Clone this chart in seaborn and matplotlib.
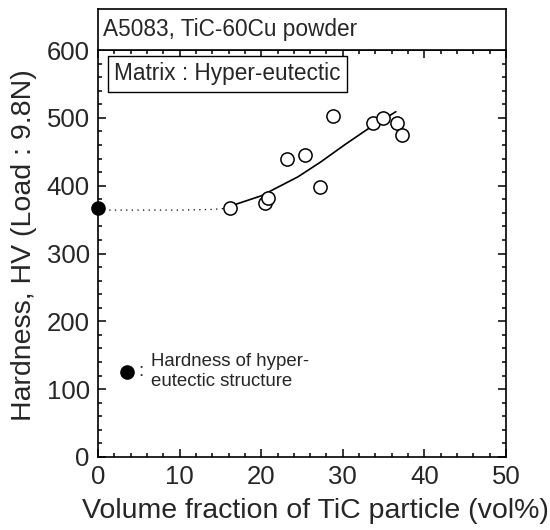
import matplotlib
matplotlib.use("Agg")
import matplotlib.pyplot as plt
import seaborn as sns
import pandas as pd
from matplotlib.ticker import MultipleLocator

# ---- data ----
vol_frac = [16.2, 20.5, 20.8, 23.2, 25.4, 27.2, 28.8, 33.7, 34.9, 36.7, 37.3]
hardness = [367, 374, 382, 440, 445, 398, 502, 492, 500, 492, 474]

curve_x = [16.2, 17.0, 20.0, 21.6, 24.5, 27.3, 30.2, 33.0, 36.5]
curve_y = [367, 373, 385, 395, 413, 435, 460, 483, 509]

dotted_x = [0, 5, 10, 14, 16.2]
dotted_y = [364, 364, 364, 365, 367]

matrix_x = [0]
matrix_y = [367]

legend_dot_x = [3.6]
legend_dot_y = [126]

title_text = "A5083, TiC-60Cu powder"
box_text = "Matrix : Hyper-eutectic"
note_text = "Hardness of hyper-\neutectic structure"
xlabel = "Volume fraction of TiC particle (vol%)"
ylabel = "Hardness, HV (Load : 9.8N)"

sns.set_style("ticks")
plt.rcParams['font.family'] = ['Liberation Sans', 'DejaVu Sans']

W, H = 550, 530
fig = plt.figure(figsize=(5.5, 5.3), dpi=100)
L, R, B, T = 98, 506, 457, 50
ax = fig.add_axes([L / W, (H - B) / H, (R - L) / W, (B - T) / H])

df = pd.DataFrame({"x": vol_frac, "y": hardness})
cdf = pd.DataFrame({"x": curve_x, "y": curve_y})
ddf = pd.DataFrame({"x": dotted_x, "y": dotted_y})

sns.lineplot(data=ddf, x="x", y="y", ax=ax, color="black", lw=0.9,
             linestyle=(0, (1, 3.5)), sort=False, zorder=2)
sns.lineplot(data=cdf, x="x", y="y", ax=ax, color="black", lw=1.2,
             sort=False, zorder=2)
ax.plot(vol_frac, hardness, linestyle="none", marker="o", markersize=9.5,
        markerfacecolor="white", markeredgecolor="black", markeredgewidth=1.1,
        zorder=3)
ax.plot(matrix_x, matrix_y, linestyle="none", marker="o", markersize=9.5,
        color="black", zorder=4, clip_on=False)
ax.plot(legend_dot_x, legend_dot_y, linestyle="none", marker="o",
        markersize=9.5, color="black", zorder=4)

ax.set_xlim(0, 50)
ax.set_ylim(0, 600)
ax.xaxis.set_major_locator(MultipleLocator(10))
ax.xaxis.set_minor_locator(MultipleLocator(2))
ax.yaxis.set_major_locator(MultipleLocator(100))
ax.yaxis.set_minor_locator(MultipleLocator(20))
ax.tick_params(which="both", direction="in", top=True, right=True,
               width=1.1, color="black")
ax.tick_params(which="major", length=6, labelsize=18.5, pad=6)
ax.tick_params(which="minor", length=3)
for s in ax.spines.values():
    s.set_linewidth(1.2)
    s.set_color("black")

ax.set_xlabel(xlabel, fontsize=20.5)
ax.set_ylabel(ylabel, fontsize=20.5)
ax.xaxis.set_label_coords(0.534, -0.10)
ax.yaxis.set_label_coords(-0.15, 0.521)

# annotation box
ax.text(2.0, 565, box_text, fontsize=16.3, ha="left", va="center",
        bbox=dict(boxstyle="square,pad=0.28", fc="white", ec="black", lw=1.0))
ax.text(4.9, 126, ":", fontsize=13.4, ha="left", va="center")
ax.text(6.5, 126, note_text, fontsize=13.4, ha="left", va="center",
        linespacing=1.2)

# header box
hax = fig.add_axes([L / W, (H - T) / H, (R - L) / W, (T - 9) / H])
hax.set_xticks([])
hax.set_yticks([])
for s in hax.spines.values():
    s.set_linewidth(1.2)
    s.set_color("black")
hax.text(0.012, 0.5, title_text, fontsize=16.3, ha="left", va="center",
         transform=hax.transAxes)

fig.savefig("out.png", dpi=100)
